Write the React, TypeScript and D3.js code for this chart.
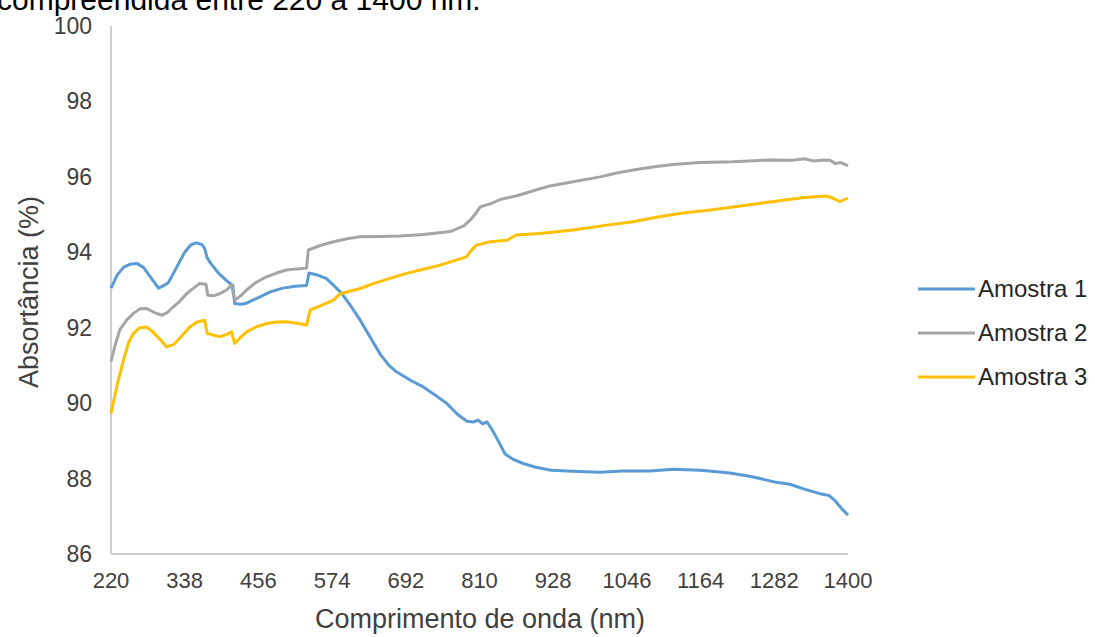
import React from "react";
import * as d3 from "d3";

const yTicks = [86, 88, 90, 92, 94, 96, 98, 100];
const xTicks = [220, 338, 456, 574, 692, 810, 928, 1046, 1164, 1282, 1400];

const amostra1: [number, number][] = [
  [220, 93.05], [230, 93.4], [240, 93.6], [250, 93.68], [262, 93.7], [272, 93.6], [285, 93.3], [296, 93.05],
  [305, 93.12], [312, 93.2], [325, 93.6], [338, 94.0], [348, 94.2], [357, 94.25], [366, 94.2], [370, 94.1],
  [374, 93.85], [380, 93.7], [392, 93.45], [405, 93.25], [415, 93.12], [418, 92.64], [428, 92.62], [437, 92.65],
  [456, 92.8], [475, 92.95], [495, 93.05], [515, 93.1], [533, 93.12], [537, 93.45], [550, 93.4], [565, 93.3],
  [576, 93.13], [590, 92.9], [605, 92.55], [619, 92.2], [635, 91.75], [651, 91.3], [665, 91.0], [677, 90.83],
  [700, 90.6], [720, 90.43], [740, 90.2], [757, 90.0], [775, 89.7], [790, 89.52], [800, 89.5], [808, 89.55],
  [815, 89.45], [822, 89.5], [830, 89.3], [840, 89.0], [851, 88.65], [865, 88.5], [880, 88.4], [900, 88.3],
  [925, 88.22], [950, 88.2], [980, 88.18], [1003, 88.17], [1040, 88.2], [1083, 88.2], [1120, 88.25], [1163, 88.22],
  [1190, 88.18], [1211, 88.15], [1240, 88.07], [1259, 88.0], [1285, 87.9], [1307, 87.85], [1330, 87.72], [1355, 87.6],
  [1370, 87.55], [1380, 87.4], [1390, 87.2], [1400, 87.03],
];

const amostra2: [number, number][] = [
  [220, 91.1], [226, 91.5], [234, 91.94], [245, 92.2], [256, 92.38], [266, 92.5], [277, 92.51], [290, 92.4],
  [301, 92.33], [310, 92.4], [317, 92.51], [330, 92.7], [341, 92.9], [352, 93.05], [362, 93.17], [372, 93.15],
  [375, 92.86], [385, 92.85], [394, 92.9], [405, 93.0], [413, 93.13], [418, 92.73], [428, 92.85], [437, 93.0],
  [452, 93.2], [469, 93.35], [485, 93.45], [501, 93.53], [518, 93.56], [533, 93.58], [536, 94.06], [555, 94.18],
  [576, 94.28], [598, 94.36], [619, 94.41], [650, 94.42], [683, 94.43], [720, 94.47], [763, 94.55], [785, 94.7],
  [795, 94.85], [805, 95.05], [811, 95.2], [820, 95.25], [830, 95.3], [843, 95.4], [870, 95.5], [900, 95.65],
  [923, 95.76], [960, 95.87], [1003, 96.0], [1030, 96.1], [1056, 96.18], [1090, 96.27], [1120, 96.33], [1163, 96.38],
  [1216, 96.4], [1250, 96.43], [1280, 96.45], [1312, 96.44], [1330, 96.48], [1345, 96.42], [1360, 96.45], [1371, 96.44],
  [1380, 96.35], [1388, 96.38], [1400, 96.3],
];

const amostra3: [number, number][] = [
  [220, 89.73], [230, 90.5], [240, 91.14], [248, 91.6], [256, 91.85], [266, 92.0], [277, 92.02], [287, 91.89],
  [298, 91.7], [309, 91.49], [320, 91.55], [330, 91.72], [346, 92.02], [358, 92.15], [370, 92.2], [374, 91.85],
  [385, 91.8], [394, 91.76], [405, 91.82], [413, 91.89], [418, 91.58], [428, 91.75], [437, 91.89], [452, 92.02],
  [469, 92.11], [485, 92.15], [501, 92.16], [518, 92.12], [533, 92.07], [539, 92.47], [558, 92.6], [576, 92.73],
  [587, 92.9], [619, 93.04], [640, 93.17], [665, 93.3], [693, 93.44], [720, 93.55], [747, 93.66], [770, 93.78],
  [789, 93.88], [797, 94.05], [805, 94.19], [827, 94.28], [854, 94.32], [869, 94.46], [907, 94.5], [960, 94.59],
  [1014, 94.72], [1056, 94.81], [1100, 94.95], [1136, 95.04], [1180, 95.12], [1216, 95.2], [1260, 95.3], [1296, 95.38],
  [1330, 95.45], [1366, 95.49], [1378, 95.42], [1387, 95.34], [1395, 95.4], [1400, 95.44],
];

const seriesNames = ["Amostra 1", "Amostra 2", "Amostra 3"];
const seriesColors = ["#5b9bd5", "#a5a5a5", "#ffc000"];
const seriesData = [amostra1, amostra2, amostra3];

const captionText = "compreendida entre 220 a 1400 nm.";
const xTitle = "Comprimento de onda (nm)";
const yTitle = "Absortância (%)";

export default function App() {
  const W = 1095, H = 637;
  const x = d3.scaleLinear().domain([220, 1400]).range([111, 848]);
  const y = d3.scaleLinear().domain([86, 100]).range([554, 26]);
  const line = d3.line<[number, number]>().x(d => x(d[0])).y(d => y(d[1])).curve(d3.curveLinear);
  const font = "'Liberation Sans', Arial, sans-serif";
  return (
    <svg width={W} height={H} style={{ position: "absolute", left: 0, top: 0, background: "#fff" }} fontFamily={font}>
      <text x={-3} y={10} fontSize={30} fill="#000">{captionText}</text>
      <line x1={x(220)} x2={x(220)} y1={y(100)} y2={y(86)} stroke="#bfbfbf" strokeWidth={1.5} />
      <line x1={x(220)} x2={x(1400)} y1={y(86)} y2={y(86)} stroke="#bfbfbf" strokeWidth={1.5} />
      {yTicks.map(t => (
        <text key={t} x={92} y={y(t)} dy="0.35em" textAnchor="end" fontSize={23} fill="#404040">{t}</text>
      ))}
      {xTicks.map(t => (
        <text key={t} x={x(t)} y={588} textAnchor="middle" fontSize={22} fill="#404040">{t}</text>
      ))}
      <text transform={`translate(38,292) rotate(-90)`} textAnchor="middle" fontSize={27} fill="#404040">{yTitle}</text>
      <text x={480} y={628} textAnchor="middle" fontSize={27} fill="#404040">{xTitle}</text>
      {seriesData.map((d, i) => (
        <path key={i} d={line(d) || ""} fill="none" stroke={seriesColors[i]} strokeWidth={3} strokeLinejoin="round" />
      ))}
      {seriesNames.map((n, i) => (
        <g key={n} transform={`translate(918,${289 + i * 44})`}>
          <line x1={0} x2={57} y1={0} y2={0} stroke={seriesColors[i]} strokeWidth={3} />
          <text x={60} y={0} dy="0.35em" fontSize={24} fill="#262626">{n}</text>
        </g>
      ))}
    </svg>
  );
}
